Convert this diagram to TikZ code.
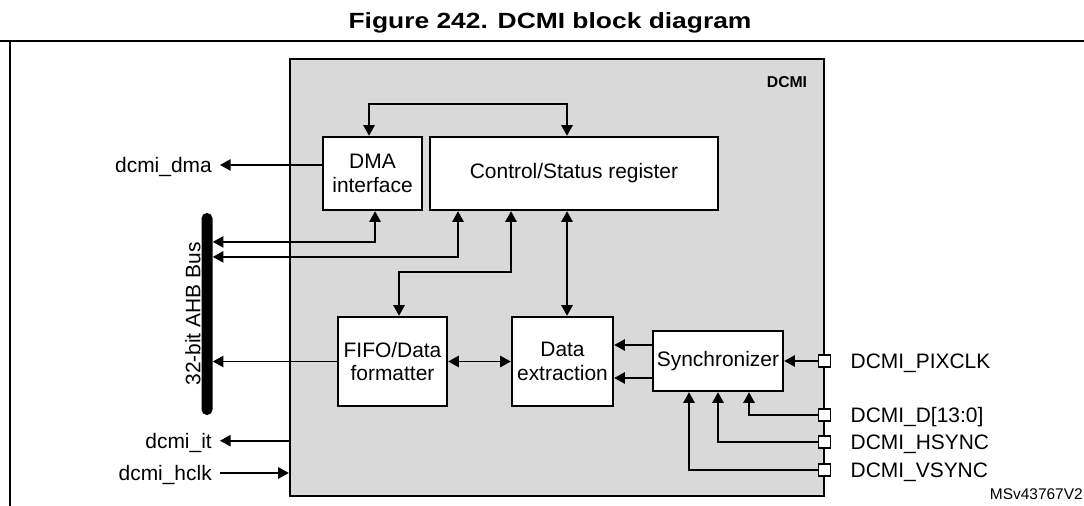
\documentclass[tikz,border=0pt]{standalone}
\usepackage{fontspec}
\setmainfont{Liberation Sans}
\newfontfamily\titlefont[FakeStretch=1.2]{Liberation Sans}
\usetikzlibrary{positioning,arrows.meta}
\tikzset{
  blk/.style={draw,line width=1.8pt,fill=white,align=center,inner sep=1pt,font=\fontsize{15.7pt}{17.5pt}\selectfont},
  lbl/.style={inner sep=2pt,text height=11.2pt,text depth=0pt,font=\fontsize{15.7pt}{17.5pt}\selectfont},
  sig/.style={line width=1.25pt,-{Triangle[length=8pt,width=8.5pt]}},
  dsig/.style={line width=1.25pt,{Triangle[length=8pt,width=8.5pt]}-{Triangle[length=8pt,width=8.5pt]}},
  pinbox/.style={draw,line width=0.9pt,fill=white,minimum size=9pt,inner sep=0pt}
}
\begin{document}
\begin{tikzpicture}[x=0.75pt,y=-0.75pt]
  \useasboundingbox (0,0) rectangle (1084,506);
  \node[font=\titlefont\bfseries\fontsize{16.5pt}{18pt}\selectfont] (title) at (550,23) {Figure 242. DCMI block diagram}; %titel
  \draw[line width=1.75pt] (0,41) -- (1084,41); %streg
  \draw[line width=1.5pt] (9.5,41) -- (9.5,506); %ramme
  \node[draw,line width=1.75pt,fill=gray!30,minimum width=400.5pt,minimum height=327.75pt] (dcmi) at (557,277.5) {}; %DCMI blok
  \node[font=\bfseries\fontsize{11.8pt}{13pt}\selectfont] (dcminame) at (787,82) {DCMI};
  \node[blk,minimum width=74.25pt,minimum height=54.75pt] (dma) at (372.5,173.5) {DMA\\interface};
  \node[blk,minimum width=216pt,minimum height=54.75pt] (csr) at (574,173.5) {Control/Status register};
  \node[blk,minimum width=81.75pt,minimum height=66.75pt] (fifo) at (392.5,361.5) {FIFO/Data\\formatter};
  \node[blk,minimum width=75.75pt,minimum height=66.75pt] (dext) at (562.5,361.5) {Data\\extraction};
  \node[blk,minimum width=97.5pt,minimum height=45pt] (sync) at (718,361) {Synchronizer};
  \node[fill=black,rounded corners=4pt,minimum width=8.25pt,minimum height=151.5pt,inner sep=0pt] (bus) at (207,314) {}; %AHB bus
  \node[lbl,rotate=90] (busname) at (193,314) {32-bit AHB Bus};
  \node[pinbox] (ppix) at (824.5,361) {}; %pins
  \node[pinbox] (pd) at (824.5,415) {};
  \node[pinbox] (ph) at (824.5,442) {};
  \node[pinbox] (pv) at (824.5,470) {};
  \node[lbl,right=12.5pt of ppix] (pixname) {DCMI\_PIXCLK};
  \node[lbl,right=12.5pt of pd] (dname) {DCMI\_D[13:0]};
  \node[lbl,right=12.5pt of ph] (hname) {DCMI\_HSYNC};
  \node[lbl,right=12.5pt of pv] (vname) {DCMI\_VSYNC};
  \node[lbl,anchor=east,inner xsep=6pt] (dmaout) at (220,165) {dcmi\_dma};
  \node[lbl,anchor=east,inner xsep=6pt] (itout) at (220,440.7) {dcmi\_it};
  \node[lbl,anchor=east,inner xsep=6pt] (hclkin) at (220,473) {dcmi\_hclk};
  \node[lbl,anchor=south east,inner sep=0pt,font=\fontsize{11.6pt}{13pt}\selectfont] (msv) at (1083,500) {MSv43767V2};
  \draw[dsig] ([xshift=-2.6pt]dma.north) -- ++(0,-32) -| ([xshift=-5.25pt]csr.north); %top
  \draw[sig] ([yshift=6.4pt]dma.west) -- (dmaout);
  \draw[dsig] ([xshift=1.9pt]dma.south) -- ++(0,30.7) coordinate (c1) -- (c1 -| bus.east); %til bus
  \draw[dsig] ([xshift=-87pt]csr.south) -- ++(0,45.7) coordinate (c2) -- (c2 -| bus.east);
  \draw[sig] (fifo.west) -- (fifo.west -| bus.east);
  \draw[dsig] ([xshift=-47.25pt]csr.south) -- ++(0,60.7) -| ([xshift=4.9pt]fifo.north);
  \draw[dsig] ([xshift=-5.25pt]csr.south) -- ([xshift=3.4pt]dext.north);
  \draw[dsig] (fifo.east) -- (dext.west);
  \draw[sig] ([yshift=12pt]sync.west) coordinate (s1) -- (s1 -| dext.east);
  \draw[sig] ([yshift=-12.75pt]sync.west) coordinate (s2) -- (s2 -| dext.east);
  \draw[sig] (ppix) -- (sync.east); %ind
  \draw[sig] (pd.west) -| ([xshift=23.25pt]sync.south);
  \draw[sig] (ph.west) -| (sync.south);
  \draw[sig] (pv.west) -| ([xshift=-21.75pt]sync.south);
  \draw[sig] (itout -| dcmi.west) -- (itout);
  \draw[sig] (hclkin) -- (hclkin -| dcmi.west);
\end{tikzpicture}
\end{document}
